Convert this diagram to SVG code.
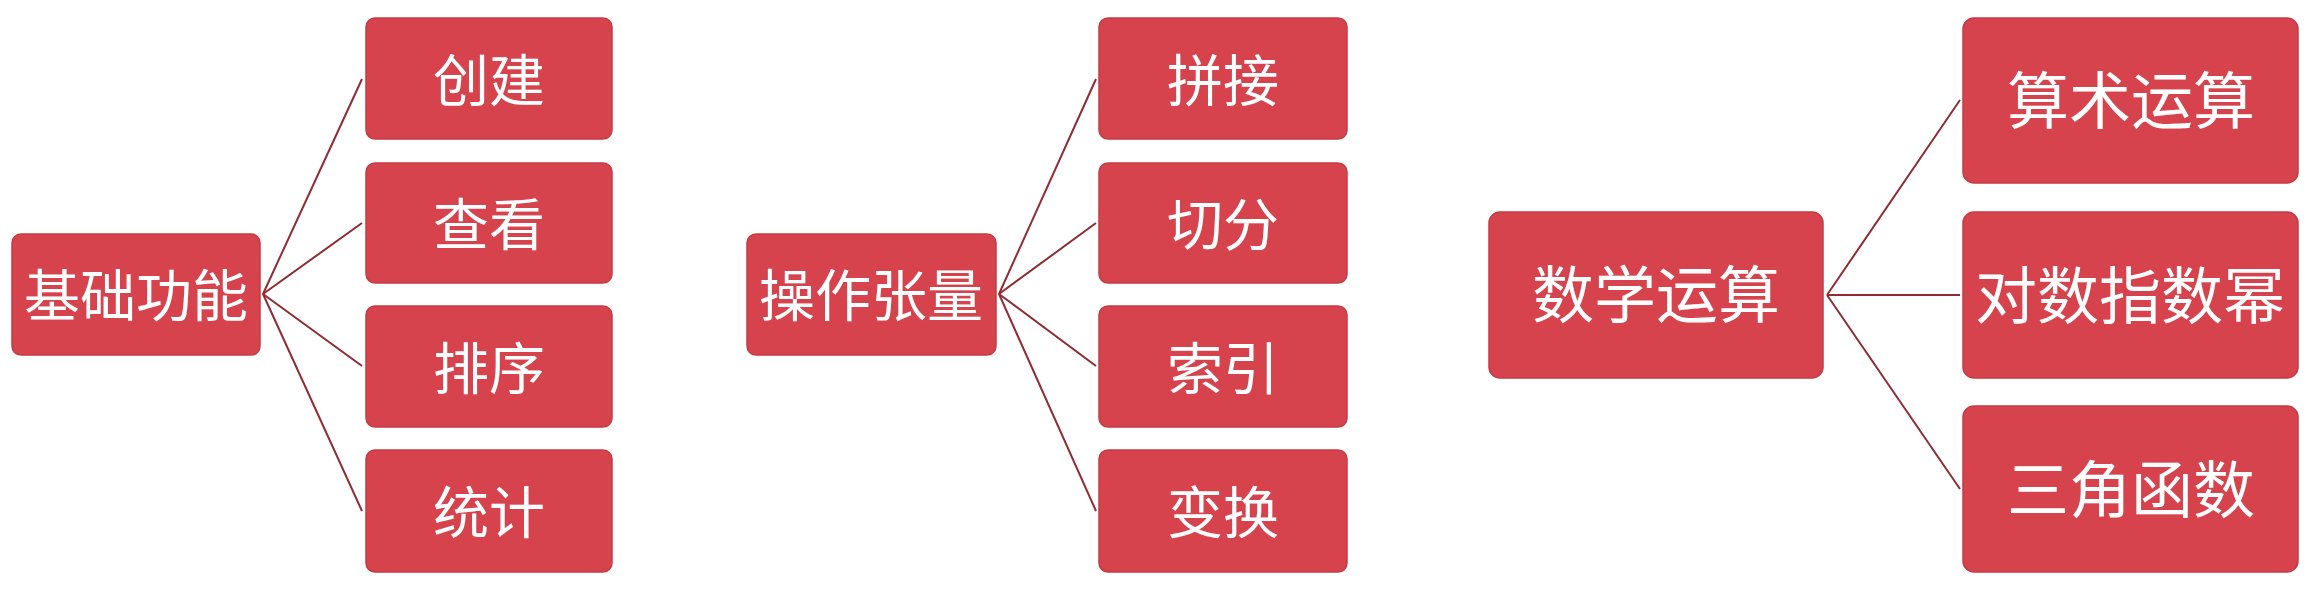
<svg xmlns="http://www.w3.org/2000/svg" width="2313" height="589" viewBox="0 0 2313 589">
  <style>
    .box { fill: #D6434D; stroke: #C63A44; stroke-width: 1.5; }
    .lbl { fill: #FFFFFF; font-family: "Noto Sans CJK SC", "Noto Sans", sans-serif; text-anchor: middle; dominant-baseline: central; }
    .s56 { font-size: 56px; }
    .s62 { font-size: 62px; }
    .conn line { stroke: #8E2C33; stroke-width: 2; }
  </style>
  <rect width="2313" height="589" fill="#FFFFFF"/>
  <g id="connectors" class="conn">
    <line x1="263" y1="294" x2="362" y2="79"/>
    <line x1="263" y1="294" x2="362" y2="223"/>
    <line x1="263" y1="294" x2="362" y2="366"/>
    <line x1="263" y1="294" x2="362" y2="511"/>
    <line x1="999" y1="294" x2="1096" y2="79"/>
    <line x1="999" y1="294" x2="1096" y2="223"/>
    <line x1="999" y1="294" x2="1096" y2="366"/>
    <line x1="999" y1="294" x2="1096" y2="511"/>
    <line x1="1827" y1="295" x2="1960" y2="100"/>
    <line x1="1827" y1="295" x2="1960" y2="295"/>
    <line x1="1827" y1="295" x2="1960" y2="489"/>
  </g>
  <g id="node-jichu">
    <rect class="box" x="12" y="234" width="248" height="121" rx="9"/>
    <text class="lbl s56" x="136" y="291">基础功能</text>
  </g>
  <g id="node-chuangjian">
    <rect class="box" x="366" y="18" width="246" height="121" rx="9"/>
    <text class="lbl s56" x="489" y="76">创建</text>
  </g>
  <g id="node-chakan">
    <rect class="box" x="366" y="163" width="246" height="120" rx="9"/>
    <text class="lbl s56" x="489" y="220">查看</text>
  </g>
  <g id="node-paixu">
    <rect class="box" x="366" y="306" width="246" height="121" rx="9"/>
    <text class="lbl s56" x="489" y="364">排序</text>
  </g>
  <g id="node-tongji">
    <rect class="box" x="366" y="450" width="246" height="122" rx="9"/>
    <text class="lbl s56" x="489" y="508">统计</text>
  </g>
  <g id="node-caozuo">
    <rect class="box" x="747" y="234" width="249" height="121" rx="9"/>
    <text class="lbl s56" x="871" y="291">操作张量</text>
  </g>
  <g id="node-pinjie">
    <rect class="box" x="1099" y="18" width="248" height="121" rx="9"/>
    <text class="lbl s56" x="1223" y="76">拼接</text>
  </g>
  <g id="node-qiefen">
    <rect class="box" x="1099" y="163" width="248" height="120" rx="9"/>
    <text class="lbl s56" x="1223" y="220">切分</text>
  </g>
  <g id="node-suoyin">
    <rect class="box" x="1099" y="306" width="248" height="121" rx="9"/>
    <text class="lbl s56" x="1223" y="364">索引</text>
  </g>
  <g id="node-bianhuan">
    <rect class="box" x="1099" y="450" width="248" height="122" rx="9"/>
    <text class="lbl s56" x="1223" y="508">变换</text>
  </g>
  <g id="node-shuxue">
    <rect class="box" x="1489" y="212" width="334" height="166" rx="11"/>
    <text class="lbl s62" x="1656" y="291">数学运算</text>
  </g>
  <g id="node-suanshu">
    <rect class="box" x="1963" y="18" width="335" height="165" rx="11"/>
    <text class="lbl s62" x="2131" y="97">算术运算</text>
  </g>
  <g id="node-duishu">
    <rect class="box" x="1963" y="212" width="335" height="166" rx="11"/>
    <text class="lbl s62" x="2130" y="292">对数指数幂</text>
  </g>
  <g id="node-sanjiao">
    <rect class="box" x="1963" y="406" width="335" height="166" rx="11"/>
    <text class="lbl s62" x="2131" y="486">三角函数</text>
  </g>
</svg>
